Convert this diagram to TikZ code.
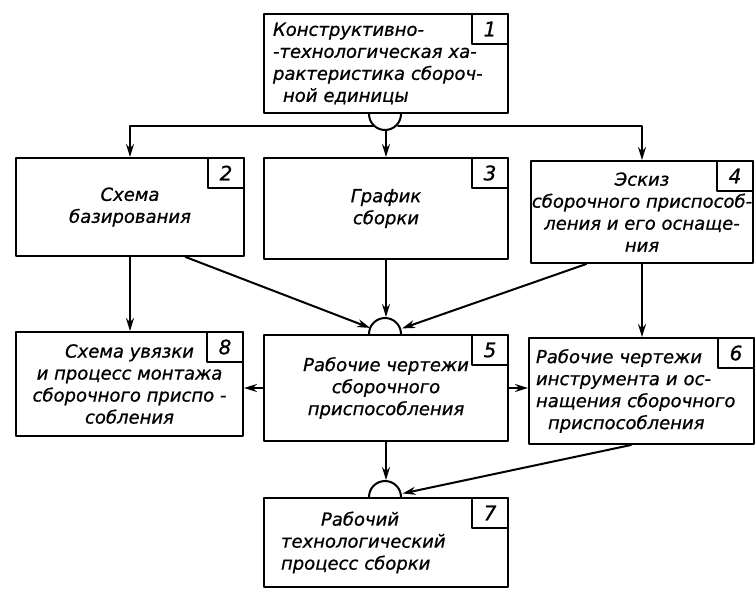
\documentclass[tikz,border=0pt]{standalone}
\usepackage{fontspec}
\newfontfamily\gost{DejaVu Sans}[ItalicFeatures={FakeBold=0.8}]
\usetikzlibrary{arrows.meta}

\begin{document}
\begin{tikzpicture}[line cap=round,line join=round,line width=2pt,>={Stealth[length=13pt,width=8pt]},x=1pt,y=-1pt,
  font=\gost\itshape\fontsize{18}{22}\selectfont]
\useasboundingbox (0,0) rectangle (755,590);
\tikzstyle{blok}=[draw,rectangle,anchor=north west,inner sep=0pt]
\tikzstyle{nomer}=[draw,rectangle,anchor=north east,minimum width=36pt,minimum height=30pt,inner sep=0pt,font=\gost\itshape\fontsize{20}{22}\selectfont]
\tikzstyle{styk}=[circle,minimum size=32pt,inner sep=0pt]
%upper row
\node[blok,minimum width=244pt,minimum height=99pt,text width=226pt,align=left] (b1) at (263,13) {Конструктивно-\\-технологическая ха-\\рактеристика сбороч-\\\hspace*{10pt}ной единицы};
\node[nomer] (n1) at (b1.north east) {1};
\node[blok,minimum width=228pt,minimum height=98pt,align=center] (b2) at (15,157) {Схема\\базирования};
\node[nomer] (n2) at (b2.north east) {2};
\node[blok,minimum width=244pt,minimum height=101pt,align=center] (b3) at (263,157) {График\\сборки};
\node[nomer] (n3) at (b3.north east) {3};
\node[blok,minimum width=222pt,minimum height=102pt,align=center] (b4) at (530,160) {Эскиз\\сборочного приспособ-\\ления и его оснаще-\\ния};
\node[nomer] (n4) at (b4.north east) {4};
%middle row
\node[blok,minimum width=227pt,minimum height=104pt,align=center] (b8) at (15,331) {Схема увязки\\и процесс монтажа\\сборочного приспо -\\собления};
\node[nomer] (n8) at (b8.north east) {8};
\node[blok,minimum width=244pt,minimum height=106pt,align=center] (b5) at (263,334) {Рабочие чертежи\\сборочного\\приспособления};
\node[nomer] (n5) at (b5.north east) {5};
\node[blok,minimum width=225pt,minimum height=106pt,text width=211pt,align=left] (b6) at (528,337) {Рабочие чертежи\\инструмента и ос-\\нащения сборочного\\\hspace*{12pt}приспособления};
\node[nomer] (n6) at (b6.north east) {6};
%bottom
\node[blok,minimum width=244pt,minimum height=89pt,text width=210pt,align=left] (b7) at (263,497) {\hspace*{40pt}Рабочий\\технологический\\процесс сборки};
\node[nomer] (n7) at (b7.north east) {7};
%joints
\node[styk] (s1) at (b1.south) {};
\node[styk] (s5) at (b5.north) {};
\node[styk] (s7) at (b7.north) {};
\draw (s1.west) arc[start angle=180,end angle=360,radius=16pt];
\draw (s5.west) arc[start angle=180,end angle=0,radius=16pt];
\draw (s7.west) arc[start angle=180,end angle=0,radius=16pt];
%arrows
\draw[->] (s1.-135) -| (b2.north);
\draw[->] (s1.-45) -| (b4.north);
\draw[->] (s1.south) -- (b3.north);
\draw[->] (b2.-42) -- (s5);
\draw[->] (b3.south) -- (s5);
\draw[->] (b4.-137) -- (s5);
\draw[->] (b2.south) -- (b2.south |- b8.north);
\draw[->] (b4.south) -- (b4.south |- b6.north);
\draw[->] (b5.west) -- (b5.west -| b8.east);
\draw[->] (b5.east) -- (b5.east -| b6.west);
\draw[->] (b5.south) -- (s7);
\draw[->] (b6.-101) -- (s7);
\end{tikzpicture}
\end{document}
